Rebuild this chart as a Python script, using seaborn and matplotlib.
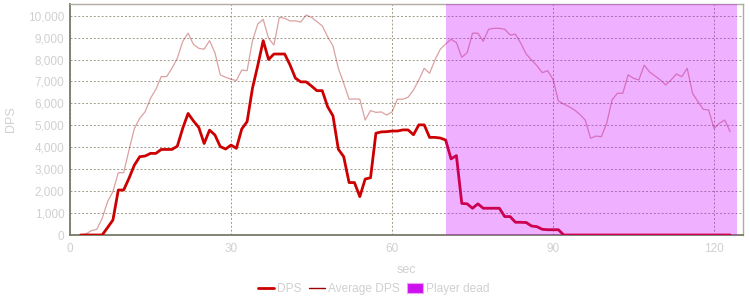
import matplotlib
matplotlib.use("Agg")
import matplotlib.pyplot as plt
from matplotlib.lines import Line2D
from matplotlib.patches import Patch
from matplotlib.ticker import FuncFormatter
import seaborn as sns
import pandas as pd

# ---- data ----
seconds = list(range(2, 124))
dps = [0, 0, 0, 0, 0, 340, 684, 2050, 2050, 2590, 3190, 3570, 3600, 3720, 3720, 3900, 3900,
       3900, 4050, 4860, 5540, 5200, 4900, 4170, 4780, 4560, 4030, 3920, 4100, 3950, 4830,
       5170, 6690, 7740, 8860, 8000, 8250, 8250, 8250, 7750, 7150, 6980, 6980, 6790, 6580,
       6580, 5850, 5430, 3910, 3570, 2390, 2390, 1750, 2550, 2610, 4640, 4700, 4710, 4740,
       4740, 4790, 4790, 4570, 5020, 5020, 4450, 4450, 4420, 4330, 3470, 3620, 1440, 1420,
       1220, 1420, 1220, 1220, 1220, 1220, 840, 840, 580, 580, 570, 410, 380, 260, 240, 240,
       240, 0, 0, 0, 0, 0, 0, 0, 0, 0, 0, 0, 0, 0, 0, 0, 0, 0, 0, 0, 0, 0, 0, 0, 0, 0, 0,
       0, 0, 0, 0, 0, 0]
avg_dps = [0, 50, 200, 260, 760, 1520, 1980, 2840, 2840, 3880, 4860, 5320, 5620, 6230,
           6640, 7220, 7220, 7600, 8060, 8820, 9200, 8690, 8510, 8470, 8860, 8310, 7300,
           7190, 7100, 7040, 7520, 7490, 8860, 9620, 9830, 8970, 8660, 9920, 9880, 9760,
           9760, 9710, 10030, 9920, 9730, 9530, 9040, 8620, 7600, 6920, 6190, 6200, 6190,
           5240, 5670, 5590, 5610, 5470, 5610, 6190, 6190, 6280, 6610, 7070, 7600, 7370,
           7980, 8470, 8710, 8920, 8770, 8100, 8310, 9200, 9200, 8830, 9380, 9420, 9420,
           9380, 9120, 9150, 8740, 8250, 7980, 7720, 7400, 7490, 7100, 6110, 5970, 5850,
           5700, 5500, 5240, 4410, 4510, 4480, 5090, 6160, 6460, 6460, 7300, 7140, 7070,
           7740, 7430, 7250, 7070, 6840, 7070, 7340, 7220, 7600, 6460, 6080, 5730, 5700,
           4860, 5090, 5240, 4710]
dead_start = 70
dead_end = 124.3
x_ticks = [0, 30, 60, 90, 120]
y_ticks = list(range(0, 10001, 1000))

df = pd.DataFrame({"sec": seconds, "DPS": dps, "Average DPS": avg_dps})

sns.set_style("white")
plt.rcParams["font.family"] = ["Liberation Sans", "DejaVu Sans"]

fig = plt.figure(figsize=(7.5, 3.0), dpi=100)
ax = fig.add_axes([70 / 750, 1 - 235 / 300, 673 / 750, 231 / 300])

light = "#d0d0d0"
sns.lineplot(data=df, x="sec", y="Average DPS", ax=ax, color="#b03030", alpha=0.45,
             linewidth=0.9, zorder=3)
sns.lineplot(data=df, x="sec", y="DPS", ax=ax, color="#cc0000", linewidth=2.0, zorder=4)
ax.axvspan(dead_start, dead_end, color="#cc00ff", alpha=0.31, linewidth=0, zorder=5)

ax.set_xlim(0, 125.4)
ax.set_ylim(0, 10530)
ax.set_xticks(x_ticks)
ax.set_yticks(y_ticks)
ax.yaxis.set_major_formatter(FuncFormatter(lambda v, p: f"{int(v):,}"))

ax.grid(True, color="#a09a8a", linestyle=(0, (2, 2)), linewidth=0.7)
ax.set_axisbelow(True)

ax.tick_params(axis="x", colors="#7a7a6a", length=3, width=1, labelcolor=light,
               labelsize=8.5, pad=3)
ax.tick_params(axis="y", length=0, labelcolor=light, labelsize=8.5, pad=4)
ax.set_xlabel("sec", color=light, fontsize=9, labelpad=6)
ax.set_ylabel("DPS", color=light, fontsize=9, labelpad=8)

for s in ["left", "bottom"]:
    ax.spines[s].set_color("#7a7a6a")
    ax.spines[s].set_linewidth(1.3)
for s in ["top", "right"]:
    ax.spines[s].set_color("#b0aca0")
    ax.spines[s].set_linewidth(1.0)
    ax.spines[s].set_visible(True)

handles = [
    Line2D([], [], color="#cc0000", linewidth=2.0),
    Line2D([], [], color="#990000", linewidth=1.0),
    Patch(facecolor="#cc11ee", edgecolor="#e9a0f5", linewidth=0.8),
]
leg = fig.legend(handles, ["DPS", "Average DPS", "Player dead"], loc="center",
                 bbox_to_anchor=(374 / 750, 1 - 289 / 300), ncol=3, frameon=False,
                 fontsize=8.6, handlelength=1.3, handletextpad=0.3, columnspacing=0.6,
                 handleheight=1.0)
for t in leg.get_texts():
    t.set_color(light)

fig.savefig("out.png", dpi=100)
